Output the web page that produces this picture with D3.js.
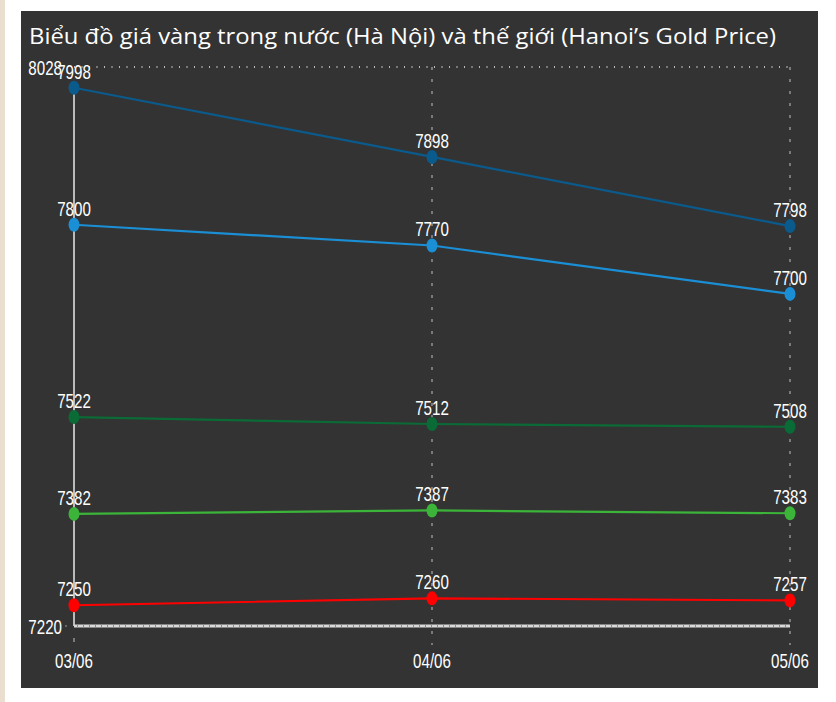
<!DOCTYPE html>
<html><head><meta charset="utf-8">
<script src="https://cdn.jsdelivr.net/npm/d3@7/dist/d3.min.js"></script>
<style>
html,body{margin:0;padding:0;background:#fff;}
svg{display:block;}
</style></head>
<body>
<svg id="c" width="836" height="702"></svg>
<script>
const categories = ["03/06", "04/06", "05/06"];
const series1 = [7998, 7898, 7798];
const series2 = [7800, 7770, 7700];
const series3 = [7522, 7512, 7508];
const series4 = [7382, 7387, 7383];
const series5 = [7250, 7260, 7257];
const yTicks = [7220, 8028];
const colors = ["#0b5a8c", "#1b8fd6", "#0b6b36", "#3cb43a", "#ff0000"];
const titleText = "Biểu đồ giá vàng trong nước (Hà Nội) và thế giới (Hanoi’s Gold Price)";

const allSeries = [series1, series2, series3, series4, series5];
const svg = d3.select("#c");
const numFont = "'Liberation Sans', Arial, sans-serif";

function narrow(sel, factor) {
  sel.each(function() {
    const w = this.getComputedTextLength();
    d3.select(this).attr("textLength", w * factor).attr("lengthAdjust", "spacingAndGlyphs");
  });
  return sel;
}

// page decorations
svg.append("rect").attr("x",0).attr("y",0).attr("width",5).attr("height",702).attr("fill","#eadfcf");
svg.append("rect").attr("x",21).attr("y",11).attr("width",797).attr("height",677).attr("fill","#333333");

svg.append("text").attr("x",29).attr("y",44)
  .attr("fill","#ffffff").attr("font-family","'Open Sans', 'DejaVu Sans', sans-serif")
  .attr("font-size",22).attr("textLength",747).attr("lengthAdjust","spacingAndGlyphs")
  .text(titleText);

const x = d3.scalePoint().domain(categories).range([74, 790]);
const y = d3.scaleLinear().domain([7220, 8028]).range([626, 67]);

// top dotted grid line
svg.append("line").attr("x1",x(categories[0])).attr("x2",x(categories[2]))
  .attr("y1",y(8028)).attr("y2",y(8028))
  .attr("stroke","#bbbbbb").attr("stroke-width",2).attr("stroke-dasharray","1,6.5");

// vertical dashed grid lines
categories.slice(1).forEach(c => {
  svg.append("line").attr("x1",x(c)).attr("x2",x(c)).attr("y1",y(8028)).attr("y2",645)
    .attr("stroke","#aaaaaa").attr("stroke-width",1.2).attr("stroke-dasharray","3,9");
});
svg.append("line").attr("x1",x(categories[0])).attr("x2",x(categories[0])).attr("y1",638).attr("y2",642)
  .attr("stroke","#aaaaaa").attr("stroke-width",1.2);

// left axis line
svg.append("line").attr("x1",x(categories[0])).attr("x2",x(categories[0]))
  .attr("y1",y(series1[0])).attr("y2",y(7220))
  .attr("stroke","#e8e8e8").attr("stroke-width",1.5);

// bottom axis
svg.append("line").attr("x1",x(categories[0])).attr("x2",x(categories[2]))
  .attr("y1",y(7220)).attr("y2",y(7220)).attr("stroke","#d8d8d8").attr("stroke-width",3);
svg.append("line").attr("x1",x(categories[0])+3).attr("x2",x(categories[2]))
  .attr("y1",y(7220)).attr("y2",y(7220)).attr("stroke","#8a8a8a").attr("stroke-width",3)
  .attr("stroke-dasharray","1,5");

// y tick labels
yTicks.forEach(t => {
  narrow(svg.append("text").attr("x",62).attr("y",y(t)+8).attr("text-anchor","end")
    .attr("fill","#ffffff").attr("font-family",numFont).attr("font-size",21)
    .text(t), 0.72);
});
svg.append("circle").attr("cx",66).attr("cy",y(7220)).attr("r",0.8).attr("fill","#aaaaaa");

// x tick labels
categories.forEach(c => {
  narrow(svg.append("text").attr("x",x(c)).attr("y",668).attr("text-anchor","middle")
    .attr("fill","#ffffff").attr("font-family",numFont).attr("font-size",21)
    .text(c), 0.72);
});

const line = d3.line().x((d,i)=>x(categories[i])).y(d=>y(d));
allSeries.forEach((s, k) => {
  svg.append("path").datum(s).attr("d", line).attr("fill","none")
    .attr("stroke", colors[k]).attr("stroke-width", 2.2);
});
allSeries.forEach((s, k) => {
  s.forEach((v, i) => {
    svg.append("ellipse").attr("cx", x(categories[i])).attr("cy", y(v))
      .attr("rx", 5.5).attr("ry", 7).attr("fill", colors[k]);
  });
});
allSeries.forEach((s, k) => {
  s.forEach((v, i) => {
    narrow(svg.append("text").attr("x", x(categories[i])).attr("y", y(v) - 9)
      .attr("text-anchor","middle").attr("fill","#ffffff")
      .attr("font-family",numFont).attr("font-size",21)
      .text(v), 0.72);
  });
});
</script>
</body></html>
